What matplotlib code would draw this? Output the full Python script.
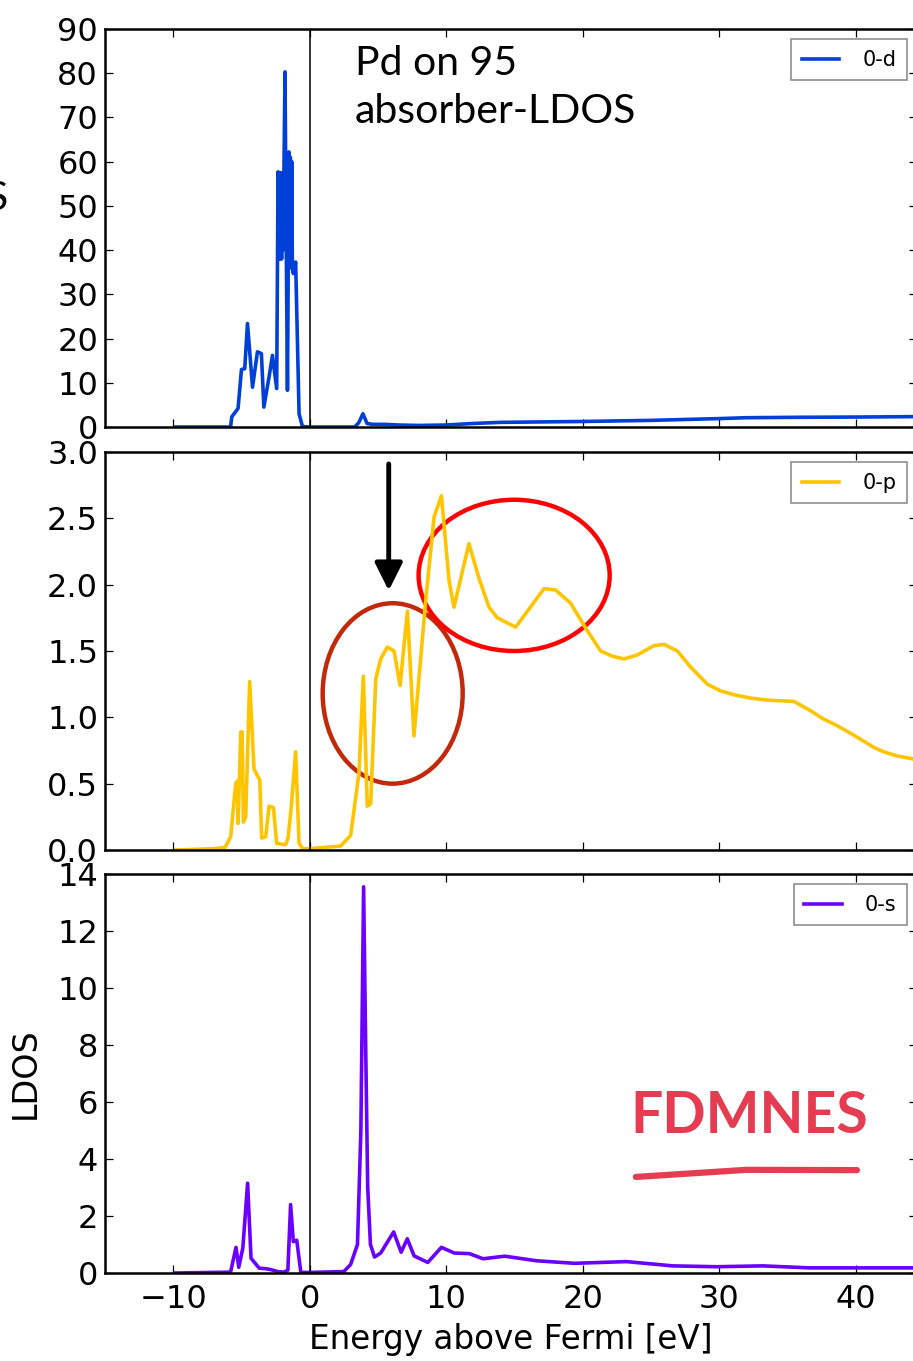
import matplotlib
matplotlib.use("Agg")
from matplotlib import pyplot as plt
from matplotlib import font_manager
from matplotlib.patches import Ellipse
import numpy as np

# ---- data (energy in eV, LDOS) ----
e_d = [-9.8, -5.8, -5.71, -5.25, -5.0, -4.76, -4.56, -4.19, -3.83, -3.54, -3.36,
       -2.98, -2.73, -2.42, -2.32, -2.27, -2.22, -2.17, -2.12, -2.06, -2.0, -1.95,
       -1.81, -1.72, -1.63, -1.52, -1.47, -1.42, -1.37, -1.32, -1.27, -1.2, -1.03,
       -0.78, -0.53, 0.0, 3.3, 3.6, 3.9, 4.2, 4.6, 5.5, 6.5, 8.0, 10.0, 12.0,
       14.0, 17.0, 20.0, 25.0, 30.0, 32.0, 36.0, 40.0, 44.5]
ldos_d = [0.0, 0.0, 2.3, 4.2, 13.0, 13.2, 23.4, 9.0, 17.0, 16.6, 4.5,
          11.3, 16.2, 8.7, 57.7, 38.0, 57.5, 38.0, 57.5, 38.0, 57.5, 40.0,
          80.3, 42.0, 8.3, 62.2, 38.0, 61.0, 36.0, 60.0, 36.0, 34.7, 37.3,
          3.0, 0.1, 0.0, 0.0, 1.0, 3.0, 0.8, 0.6, 0.6, 0.45, 0.35, 0.45, 0.8,
          1.05, 1.15, 1.25, 1.5, 1.9, 2.1, 2.2, 2.25, 2.35]

e_p = [-9.8, -7.0, -6.2, -5.79, -5.42, -5.3, -5.25, -5.05, -4.95, -4.86, -4.69,
       -4.4, -4.08, -3.78, -3.66, -3.52, -3.22, -2.98, -2.66, -2.42, -1.76, -1.59,
       -1.39, -1.03, -0.78, -0.5, 0.0, 2.27, 3.0, 3.61, 3.93, 4.22, 4.47, 4.84,
       5.2, 5.69, 6.18, 6.62, 7.16, 7.64, 8.5, 9.11, 9.65, 10.21, 10.57, 11.67,
       12.4, 13.14, 13.75, 15.09, 16.1, 17.17, 18.02, 19.12, 20.3, 21.32, 22.2,
       23.03, 24.0, 25.22, 25.96, 26.94, 27.9, 29.14, 30.1, 31.09, 32.3, 33.53,
       35.48, 36.7, 37.6, 38.6, 39.63, 40.6, 41.4, 42.07, 43.0, 44.03, 44.5]
ldos_p = [0.0, 0.01, 0.02, 0.10, 0.50, 0.52, 0.20, 0.89, 0.89, 0.21, 0.25,
          1.27, 0.61, 0.55, 0.53, 0.09, 0.10, 0.33, 0.32, 0.05, 0.04, 0.09,
          0.28, 0.74, 0.05, 0.01, 0.01, 0.03, 0.11, 0.58, 1.31, 0.33, 0.35, 1.29,
          1.44, 1.53, 1.50, 1.24, 1.80, 0.86, 1.88, 2.51, 2.67, 2.03, 1.83, 2.31,
          2.05, 1.83, 1.75, 1.68, 1.82, 1.97, 1.96, 1.86, 1.66, 1.50, 1.46,
          1.44, 1.47, 1.54, 1.55, 1.50, 1.38, 1.25, 1.20, 1.17, 1.145, 1.13,
          1.12, 1.05, 0.99, 0.94, 0.88, 0.82, 0.77, 0.74, 0.71, 0.69, 0.68]

e_s = [-9.8, -5.8, -5.4, -5.2, -4.9, -4.55, -4.3, -4.1, -3.7, -3.2, -2.85, -2.35,
       -1.9, -1.6, -1.4, -1.2, -0.95, -0.65, 0.0, 2.5, 3.0, 3.5, 3.75, 3.95,
       4.1, 4.25, 4.45, 4.75, 5.2, 6.15, 6.7, 7.15, 7.65, 8.65, 9.65, 10.6,
       11.7, 12.7, 14.3, 16.6, 19.4, 23.2, 26.6, 29.8, 33.2, 36.6, 44.5]
ldos_s = [0.0, 0.03, 0.9, 0.2, 0.88, 3.15, 0.52, 0.4, 0.17, 0.15, 0.12, 0.05,
          0.03, 0.1, 2.4, 1.1, 1.15, 0.02, 0.02, 0.05, 0.3, 1.0, 5.0, 13.55,
          8.0, 3.0, 1.0, 0.56, 0.7, 1.44, 0.73, 1.2, 0.6, 0.37, 0.9, 0.7,
          0.68, 0.5, 0.59, 0.43, 0.34, 0.4, 0.25, 0.22, 0.25, 0.18, 0.18]

panels = [
    (e_d, ldos_d, "0-d", "#0040d8", np.arange(0, 91, 10), (0, 90), "%d"),
    (e_p, ldos_p, "0-p", "#ffc400", np.arange(0, 3.01, 0.5), (0, 3), "%.1f"),
    (e_s, ldos_s, "0-s", "#6a00ff", np.arange(0, 15, 2), (0, 14), "%d"),
]

plt.rcParams["font.family"] = "DejaVu Sans"
plt.rcParams["xtick.direction"] = "in"
plt.rcParams["ytick.direction"] = "in"
plt.rcParams["xtick.top"] = True
plt.rcParams["ytick.right"] = True

W, H = 913, 1361
fig = plt.figure(figsize=(W / 100, H / 100), dpi=100)

# axes boxes in pixels: (top, bottom)
left_px, right_px = 105, 917
boxes = [(29, 427), (452, 850), (874, 1273)]

axes = []
for (e, v, lab, col, yt, ylim, fmt), (top, bot) in zip(panels, boxes):
    ax = fig.add_axes([left_px / W, 1 - bot / H, (right_px - left_px) / W, (bot - top) / H])
    ax.plot(e, v, color=col, lw=2.6, label=lab)
    ax.axvline(0, color="k", lw=1.1)
    ax.set_xlim(-15, 44.5)
    ax.set_ylim(*ylim)
    ax.set_yticks(yt)
    ax.set_yticklabels([fmt % t for t in yt])
    ax.set_xticks([-10, 0, 10, 20, 30, 40])
    ax.tick_params(labelsize=23, length=6, width=0.9, pad=5)
    ax.tick_params(axis="x", pad=8)
    for sp in ax.spines.values():
        sp.set_linewidth(1.8)
    leg = ax.legend(loc="upper right", fontsize=15, frameon=True, fancybox=False,
                    handlelength=1.8, handletextpad=1.1, borderpad=0.5,
                    borderaxespad=0.5)
    leg.get_frame().set_edgecolor("0.45")
    leg.get_frame().set_linewidth(1.2)
    axes.append(ax)

ax1, ax2, ax3 = axes
ax1.tick_params(labelbottom=False)
ax2.tick_params(labelbottom=False)
ax3.set_xticklabels(["\u221210", "0", "10", "20", "30", "40"])
ax3.set_xlabel("Energy above Fermi [eV]", fontsize=23.5, labelpad=6)
ax3.set_ylabel("LDOS", fontsize=24)
ax3.yaxis.set_label_coords(-0.078, 0.5)

# annotations on the p panel
ax2.add_patch(Ellipse((6.08, 1.18), 10.26, 1.36, fill=False, ec="#c4280a", lw=3.2))
ax2.add_patch(Ellipse((14.98, 2.07), 14.0, 1.14, fill=False, ec="#ff0000", lw=3.2))
ax2.annotate("", xy=(5.79, 1.955), xytext=(5.79, 2.91),
             arrowprops=dict(arrowstyle="-|>,head_length=0.4,head_width=0.2",
                             lw=3.5, color="k", mutation_scale=42,
                             shrinkA=0, shrinkB=0))

# FDMNES logo as text (narrow face if available)
installed = {f.name for f in font_manager.fontManager.ttflist}
if "Liberation Sans Narrow" in installed:
    logo_font, logo_size = "Liberation Sans Narrow", 50
else:
    logo_font, logo_size = "Lato", 41
ax3.text(32.2, 5.5, "FDMNES", color="#e63c52", fontsize=logo_size, family=logo_font,
         ha="center", va="center", fontweight="bold")
ax3.plot([23.9, 32.0, 40.1], [3.37, 3.62, 3.61], color="#e63c52", lw=4.5,
         solid_capstyle="round")

fig.text(355 / W, 1 - 75 / H, "Pd on 95", fontsize=29.5, family="Lato", va="baseline")
fig.text(355 / W, 1 - 123 / H, "absorber-LDOS", fontsize=29.5, family="Lato", va="baseline")
fig.text(8 / W, 1 - 210 / H, "S", fontsize=29.5, family="Lato", va="baseline", ha="right")

fig.savefig("out.png", dpi=100)
